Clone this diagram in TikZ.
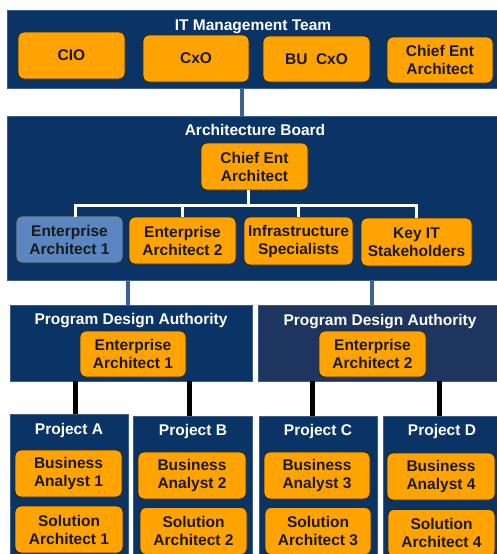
\documentclass[tikz,border=0pt]{standalone}
\usepackage{fontspec}
\setmainfont{Liberation Sans}
\definecolor{navy}{HTML}{0B3466}
\definecolor{navytwo}{HTML}{1E365F}
\definecolor{orng}{HTML}{FFA300}
\definecolor{steel}{HTML}{5A86C2}
\definecolor{linkblue}{HTML}{3A6294}
\definecolor{edge}{HTML}{3A2A05}
\tikzset{
  panel/.style={rectangle, fill=navy, draw=navy!80!white, line width=0.6pt, inner sep=0pt},
  ptitle/.style={text=white, font=\fontsize{15.5}{18}\selectfont\bfseries, inner sep=0pt, anchor=base},
  role/.style={rectangle, rounded corners=6pt, fill=orng, draw=edge, line width=0.9pt,
    font=\fontsize{15.5}{18}\selectfont\bfseries, text=black!90, align=center, inner sep=0pt},
  bluelink/.style={draw=linkblue, line width=4pt},
  whitelink/.style={draw=white, line width=3pt},
  blacklink/.style={draw=black, line width=5pt}
}
\begin{document}
\begin{tikzpicture}[x=1pt,y=-1pt]
\useasboundingbox (0,0) rectangle (496,554);
% panels
\node[panel, minimum width=493pt, minimum height=78pt] (itm) at (253.5,49) {};
\node[panel, minimum width=493pt, minimum height=164pt] (arch) at (253.5,198) {};
\node[panel, minimum width=242pt, minimum height=76pt] (pda1) at (131,343) {};
\node[panel, fill=navytwo, minimum width=242pt, minimum height=76pt] (pda2) at (379,343) {};
\node[panel, minimum width=118pt, minimum height=146pt] (pA) at (69,487) {};
\node[panel, minimum width=119pt, minimum height=144pt] (pB) at (192.5,488) {};
\node[panel, minimum width=118pt, minimum height=144pt] (pC) at (318,488) {};
\node[panel, minimum width=117pt, minimum height=144pt] (pD) at (441.5,488) {};
% titles
\node[ptitle] (titm) at (253,30) {IT Management Team};
\node[ptitle] (tarch) at (255,135.5) {Architecture Board};
\node[ptitle] (tpda1) at (131,324) {Program Design Authority};
\node[ptitle] (tpda2) at (380,325) {Program Design Authority};
\node[ptitle] (tpA) at (69,434.5) {Project A};
\node[ptitle] (tpB) at (193,435.5) {Project B};
\node[ptitle] (tpC) at (318,435.5) {Project C};
\node[ptitle] (tpD) at (442,435.5) {Project D};
% IT management team
\node[role, minimum width=107pt, minimum height=47pt] (cio) at (71.5,55.5) {CIO};
\node[role, minimum width=106pt, minimum height=47pt] (cxo) at (196,58.5) {CxO};
\node[role, minimum width=107pt, minimum height=46pt] (bucxo) at (316.5,59) {BU\ \ CxO};
\node[role, minimum width=106pt, minimum height=46pt] (ceaone) at (440,60) {Chief Ent\\Architect};
% architecture board
\node[role, minimum width=107pt, minimum height=47pt] (ceatwo) at (254.5,166.5) {Chief Ent\\Architect};
\node[role, fill=steel, minimum width=107pt, minimum height=47pt] (ea1) at (69.5,239.5) {Enterprise\\Architect 1};
\node[role, minimum width=107pt, minimum height=47pt] (ea2) at (182.5,240.5) {Enterprise\\Architect 2};
\node[role, minimum width=109pt, minimum height=48pt] (infra) at (298.5,241) {Infrastructure\\Specialists};
\node[role, minimum width=111pt, minimum height=48pt] (keyit) at (416.5,242) {Key IT\\Stakeholders};
% program design authorities
\node[role, minimum width=106pt, minimum height=46pt] (pea1) at (133,354) {Enterprise\\Architect 1};
\node[role, minimum width=107pt, minimum height=46pt] (pea2) at (372.5,354) {Enterprise\\Architect 2};
% projects
\node[role, minimum width=107pt, minimum height=47pt] (ba1) at (68.5,473.5) {Business\\Analyst 1};
\node[role, minimum width=108pt, minimum height=47pt] (ba2) at (192,475.5) {Business\\Analyst 2};
\node[role, minimum width=106pt, minimum height=47pt] (ba3) at (317,475.5) {Business\\Analyst 3};
\node[role, minimum width=108pt, minimum height=47pt] (ba4) at (441,476.5) {Business\\Analyst 4};
\node[role, minimum width=108pt, minimum height=47pt] (sa1) at (69,529.5) {Solution\\Architect 1};
\node[role, minimum width=107pt, minimum height=47pt] (sa2) at (193.5,531) {Solution\\Architect 2};
\node[role, minimum width=106pt, minimum height=47pt] (sa3) at (318,531) {Solution\\Architect 3};
\node[role, minimum width=107pt, minimum height=47pt] (sa4) at (441.5,533) {Solution\\Architect 4};
% connector columns
\coordinate (xtop) at (242,0);
\coordinate (xl) at (128,0);
\coordinate (xr) at (372,0);
\coordinate (xa) at (75,0);
\coordinate (xb) at (189,0);
\coordinate (xc) at (312,0);
\coordinate (xd) at (439,0);
\coordinate (bus) at (248,205);
% blue links
\draw[bluelink] (itm.south -| xtop) -- (arch.north -| xtop);
\draw[bluelink] (arch.south -| xl) -- (pda1.north -| xl);
\draw[bluelink] (arch.south -| xr) -- (pda2.north -| xr);
% white links in the board
\draw[whitelink] (ceatwo.south -| bus) -- (bus);
\draw[whitelink, line cap=rect] (bus) -| (ea1.north -| xa);
\draw[whitelink] (bus) -| (ea2.north);
\draw[whitelink] (bus) -| (infra.north);
\draw[whitelink] (bus) -| (keyit.north);
% black links
\draw[blacklink] (pda1.south -| xa) -- (pA.north -| xa);
\draw[blacklink] (pda1.south -| xb) -- (pB.north -| xb);
\draw[blacklink] (pda2.south -| xc) -- (pC.north -| xc);
\draw[blacklink] (pda2.south -| xd) -- (pD.north -| xd);
\end{tikzpicture}
\end{document}
